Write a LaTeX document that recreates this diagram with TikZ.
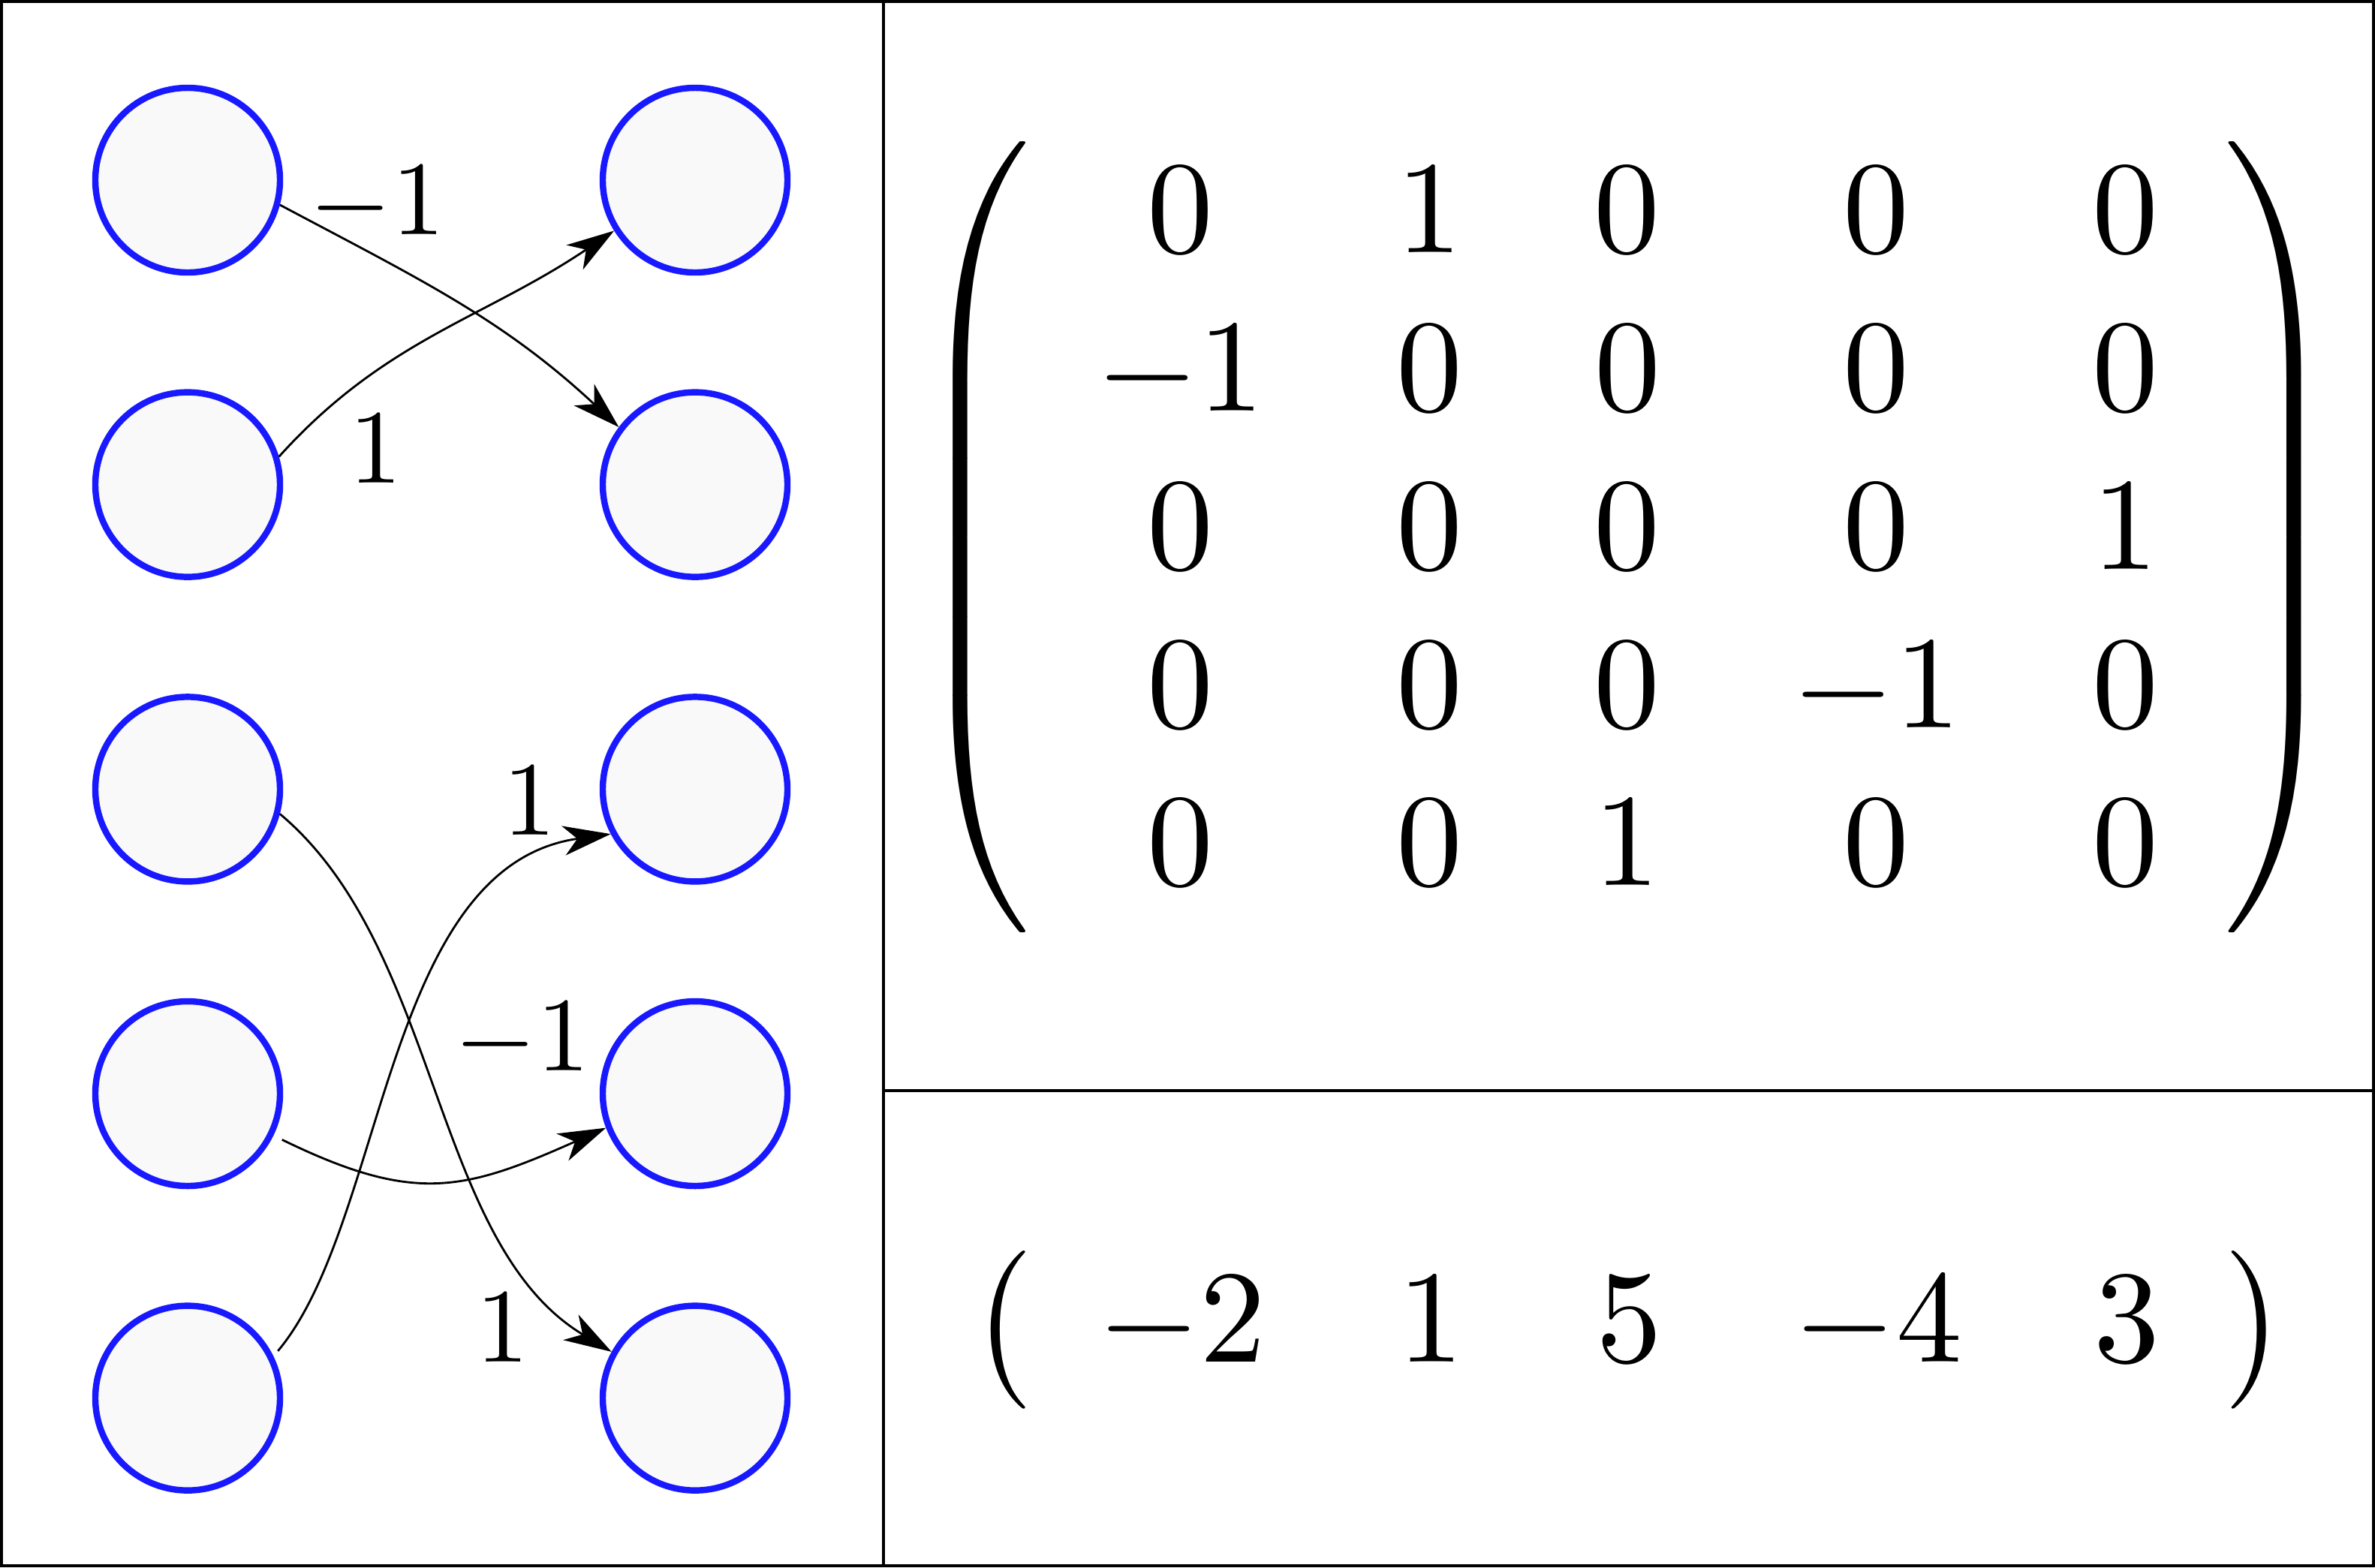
\documentclass[tikz,border=0pt]{standalone}
\usepackage{amsmath}
\usetikzlibrary{arrows.meta}
\begin{document}
\begin{tikzpicture}
\tikzstyle{every node}+=[inner sep=0pt]
\tikzstyle{unit}=[circle, draw=blue!90, fill=black!2.5, line width=1.2pt, minimum size=1.23cm]
\tikzstyle{wire}=[black, -{Stealth[length=9pt,width=5.6pt,inset=2.6pt]}]
\tikzstyle{weight}=[anchor=base, scale=2]
\useasboundingbox (0,0) rectangle (15.82,-10.44);
\draw [black, line width=0.5pt] (0.01,-0.01) rectangle (5.885,-10.43);
\draw [black, line width=0.5pt] (5.885,-0.01) rectangle (15.81,-7.265);
\draw [black, line width=0.5pt] (5.885,-7.265) rectangle (15.81,-10.43);
\node (l1) at (1.25,-1.2) [unit] {};
\node (l2) at (1.25,-3.228) [unit] {};
\node (l3) at (1.25,-5.257) [unit] {};
\node (l4) at (1.25,-7.285) [unit] {};
\node (l5) at (1.25,-9.313) [unit] {};
\node (r1) at (4.63,-1.2) [unit] {};
\node (r2) at (4.63,-3.228) [unit] {};
\node (r3) at (4.63,-5.257) [unit] {};
\node (r4) at (4.63,-7.285) [unit] {};
\node (r5) at (4.63,-9.313) [unit] {};
\draw [wire] (l1.-15) to[out=-28, in=137] (r2.143);
\draw [wire] (l2.17) to[out=48, in=214] (r1.212);
\draw [wire] (l3.-15) to[out=-40, in=149, looseness=0.85] (r5.151);
\draw [wire, shorten <=1.8pt] (l4.-26) to[out=-26, in=204, looseness=1.2] (r4.201);
\draw [wire, shorten <=1.3pt] (l5.26) to[out=50, in=188, out looseness=0.72, in looseness=0.94] (r3.208);
\node (w1) at (2.5125,-1.56) [weight] {$-1$};
\node (w2) at (2.505,-3.215) [weight] {$1$};
\node (w3) at (3.35,-9.072) [weight] {$1$};
\node (w4) at (3.4775,-7.13) [weight] {$-1$};
\node (w5) at (3.5275,-5.5635) [weight] {$1$};
\node (mat) at (10.84,-3.58) [scale=2.5] {$\left(\begin{array}{ccccc}
0 & 1 & 0 & 0 & 0\\
-1 & 0 & 0 & 0 & 0\\
0 & 0 & 0 & 0 & 1\\
0 & 0 & 0 & -1 & 0\\
0 & 0 & 1 & 0 & 0
\end{array}\right)$};
\node (vec) at (10.85,-8.86) [scale=2.5] {$\left(\begin{array}{ccccc} -2 & 1 & 5 & -4 & 3 \end{array}\right)$};
\end{tikzpicture}
\end{document}
